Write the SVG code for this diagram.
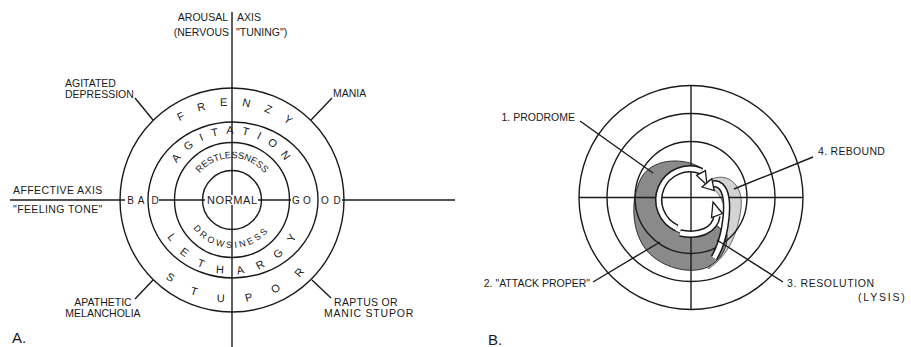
<svg xmlns="http://www.w3.org/2000/svg" width="911" height="347" viewBox="0 0 911 347">
<style>
.ln{stroke:#1a1a1a;stroke-width:1.4;fill:none}
.t{font-family:"Liberation Sans",Arial,sans-serif;font-size:10.5px;fill:#1a1a1a}
.rg{font-family:"Liberation Sans",Arial,sans-serif;font-size:11px;fill:#1a1a1a}
.sm{font-family:"Liberation Sans",Arial,sans-serif;font-size:9px;fill:#1a1a1a}
.big{font-family:"Liberation Sans",Arial,sans-serif;font-size:15px;fill:#1a1a1a}
.bandK{stroke:#1a1a1a;stroke-width:7.5;fill:none}
.bandW{stroke:#fff;stroke-width:4.5;fill:none}
.head{fill:#fff;stroke:#1a1a1a;stroke-width:1.3;stroke-linejoin:miter}
</style>
<defs>
<path id="p-frenzy" d="M 138,200 A 94 94 0 0 1 326,200"/>
<path id="p-agitation" d="M 166,200 A 66 66 0 0 1 298,200"/>
<path id="p-restless" d="M 190,200 A 42 42 0 0 1 274,200"/>
<path id="p-drowsy" d="M 184,200 A 48 48 0 0 0 280,200"/>
<path id="p-lethargy" d="M 158,200 A 74 74 0 0 0 306,200"/>
<path id="p-stupor" d="M 130,200 A 102 102 0 0 0 334,200"/>
</defs>
<rect width="911" height="347" fill="#fff"/>

<!-- ===== Diagram A ===== -->
<g id="a-rings">
<circle class="ln" cx="232" cy="200" r="112"/>
<ellipse class="ln" cx="233" cy="200" rx="85" ry="78"/>
<circle class="ln" cx="232" cy="200" r="57.5"/>
<circle class="ln" cx="232" cy="200" r="29.5"/>
</g>
<g id="a-axes">
<line class="ln" x1="232" y1="12" x2="232" y2="195"/>
<line class="ln" x1="232" y1="205" x2="232" y2="347"/>
<line class="ln" x1="10" y1="200" x2="125" y2="200"/>
<line class="ln" x1="159" y1="200" x2="205" y2="200"/>
<line class="ln" x1="258" y1="200" x2="291" y2="200"/>
<line class="ln" x1="342" y1="200" x2="455" y2="200"/>
</g>
<g id="a-ring-labels">
<text class="rg"><textPath href="#p-frenzy" startOffset="92" letter-spacing="14.4">FRENZY</textPath></text>
<text class="rg"><textPath href="#p-agitation" startOffset="38.5" letter-spacing="8.6">AGITATION</textPath></text>
<text class="sm" style="font-size:9.3px"><textPath href="#p-restless" startOffset="50%" text-anchor="middle">RESTLESSNESS</textPath></text>
<text class="sm"><textPath href="#p-drowsy" startOffset="30" letter-spacing="2.7">DROWSINESS</textPath></text>
<text class="rg"><textPath href="#p-lethargy" startOffset="38.2" letter-spacing="13.8">LETHARGY</textPath></text>
<text class="rg"><textPath href="#p-stupor" startOffset="88.1" letter-spacing="21.3">STUPOR</textPath></text>
<text class="rg" x="232" y="204" text-anchor="middle" textLength="50">NORMAL</text>
<text class="rg" style="font-size:10px" x="130.5 141 155" y="204" text-anchor="middle">BAD</text>
<text class="rg" style="font-size:10px" x="296 307 325 337" y="204" text-anchor="middle">GOOD</text>
</g>
<g id="a-arousal">
<text class="t" x="228" y="21" text-anchor="end">AROUSAL</text>
<text class="t" x="237" y="21">AXIS</text>
<text class="t" x="229" y="35.5" text-anchor="end">(NERVOUS</text>
<text class="t" x="236" y="35.5">"TUNING")</text>
</g>
<g id="a-affective">
<text class="t" x="13" y="194" letter-spacing="0.4">AFFECTIVE AXIS</text>
<text class="t" x="13" y="213" letter-spacing="0.4">"FEELING TONE"</text>
</g>
<g id="a-agitated-depression">
<text class="t" x="65" y="87">AGITATED</text>
<text class="t" x="65" y="97.5">DEPRESSION</text>
</g>
<g id="a-mania"><text class="t" x="333" y="97">MANIA</text></g>
<g id="a-apathetic">
<text class="t" x="103" y="306" text-anchor="middle">APATHETIC</text>
<text class="t" x="103" y="317" text-anchor="middle">MELANCHOLIA</text>
</g>
<g id="a-raptus">
<text class="t" x="334" y="306" letter-spacing="0.3">RAPTUS OR</text>
<text class="t" x="324" y="317" letter-spacing="0.8">MANIC STUPOR</text>
</g>
<g id="a-title"><text class="big" x="12" y="343">A.</text></g>

<!-- ===== Diagram B ===== -->
<g id="b-shapes">
<path id="b-rebound-area" d="M 708,181 C 726,170 744,184 741,208 C 738,234 728,256 708,269 C 718,256 725,242 726,228 C 727,210 722,194 712,188 Z" fill="#d3d3d3" stroke="#444" stroke-width="0.8"/>
<path id="b-attack-area" d="M 703,169 C 685,157 655,158 643,175 C 630,195 630,232 648,252 C 663,268 690,275 708,267 C 721,260 728,248 727,234 L 715,224 A 34 34 0 1 1 703,169 Z" fill="#8a8a8a" stroke="#222" stroke-width="0.9"/>
</g>
<g id="b-rings">
<circle class="ln" cx="691" cy="197.5" r="112"/>
<circle class="ln" cx="691" cy="197.5" r="84"/>
<circle class="ln" cx="691" cy="197.5" r="56"/>
<line class="ln" x1="691" y1="85.5" x2="691" y2="309.5"/>
<line class="ln" x1="579" y1="197.5" x2="803" y2="197.5"/>
</g>
<g id="b-arrows">
<path class="bandK" d="M 676.9,228.1 A 31 31 0 0 1 701,171"/>
<path class="bandW" d="M 676.9,228.1 A 31 31 0 0 1 701,171"/>
<polygon class="head" points="707,185 696.6,175.4 705.4,170.6"/>
<path class="bandK" d="M 714,258 C 725,240 728,212 726,198 C 724,186 718,183 713,184"/>
<path class="bandW" d="M 714,258 C 725,240 728,212 726,198 C 724,186 718,183 713,184"/>
<polygon class="head" points="702,187 714.2,190.5 711.8,178.8"/>
<path class="bandK" d="M 680,233 C 700,237 715,230 717,216"/>
<path class="bandW" d="M 680,233 C 700,237 715,230 717,216"/>
<polygon class="head" points="713,202 722.5,213.5 711.5,217.5"/>
</g>
<g id="connectors">
<line class="ln" x1="135" y1="98" x2="153" y2="120"/>
<line class="ln" x1="332" y1="98" x2="311" y2="120"/>
<line class="ln" x1="135" y1="299" x2="153" y2="280"/>
<line class="ln" x1="331" y1="298" x2="312" y2="280"/>
<line class="ln" x1="580" y1="121" x2="653" y2="173"/>
<line class="ln" x1="813" y1="157" x2="734" y2="189"/>
<line class="ln" x1="593" y1="282" x2="660" y2="242"/>
<line class="ln" x1="783" y1="282" x2="717" y2="240"/>
</g>
<g id="b-prodrome"><text class="t" x="575" y="121" text-anchor="end">1. PRODROME</text></g>
<g id="b-rebound"><text class="t" x="818" y="155" letter-spacing="0.3">4. REBOUND</text></g>
<g id="b-attack"><text class="t" x="590" y="287" text-anchor="end">2. "ATTACK PROPER"</text></g>
<g id="b-resolution">
<text class="t" x="787" y="287" letter-spacing="0.6">3. RESOLUTION</text>
<text class="t" x="858" y="301" letter-spacing="1.8">(LYSIS)</text>
</g>
<g id="b-title"><text class="big" x="488" y="345">B.</text></g>
</svg>
